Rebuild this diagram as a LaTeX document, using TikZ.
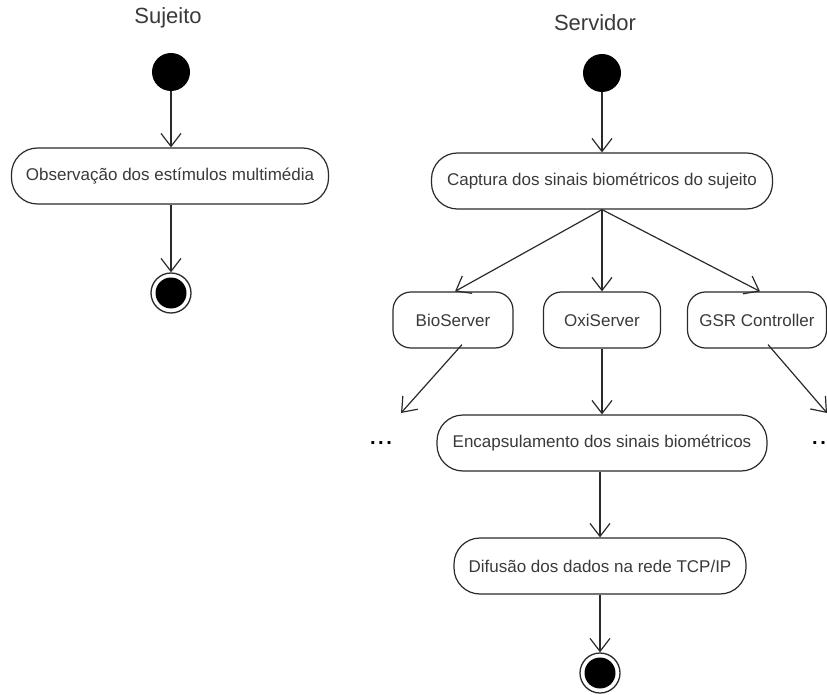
\documentclass[tikz,border=0pt]{standalone}
\usepackage{fontspec}
\setmainfont{Liberation Sans}
\usetikzlibrary{arrows.meta}
\definecolor{txt}{HTML}{3A3A3A}
\definecolor{ln}{HTML}{2A2A2A}
\tikzset{
  x={(1pt,0)}, y={(0,-1pt)},
  every node/.style={font=\fontsize{17}{20}\selectfont, text=txt},
  title/.style={font=\fontsize{22}{24}\selectfont},
  act/.style={draw=ln, line width=1.2pt, rounded corners=26pt, fill=white, minimum height=56pt, inner sep=0pt},
  small/.style={draw=ln, line width=1.2pt, rounded corners=18pt, fill=white, minimum height=56pt, inner sep=0pt},
  initn/.style={circle, fill=black, minimum size=38pt, inner sep=0pt},
  finaln/.style={circle, draw=ln, line width=1.3pt, fill=white, minimum size=40pt, inner sep=0pt,
    path picture={\fill[black] (path picture bounding box.center) circle (15.5pt);}},
  flow/.style={draw=ln, line width=1.2pt, -{Straight Barb[length=13pt,width=20pt,line width=1.2pt]}},
  dotsn/.style={font=\fontsize{20}{20}\bfseries\selectfont, text=black, inner sep=0pt}
}
\begin{document}
\begin{tikzpicture}
\useasboundingbox (0,0) rectangle (827,695);
% titles
\node[title] (sujT) at (168,18) {Sujeito};
\node[title] (servT) at (595,23) {Servidor};
% left lane
\node[initn] (i1) at (171,72) {};
\node[act, minimum width=317pt] (obs) at (170,176) {Observação dos estímulos multimédia};
\node[finaln] (f1) at (171,293) {};
\draw[flow] (i1) -- (obs.north -| i1);
\draw[flow] (obs.south -| f1) -- (f1);
% right lane
\node[initn] (i2) at (602,73) {};
\node[act, minimum width=341pt] (cap) at (602,181) {Captura dos sinais biométricos do sujeito};
\node[small, minimum width=120pt] (bio) at (453,320) {BioServer};
\node[small, minimum width=117pt] (oxi) at (602,320) {OxiServer};
\node[small, minimum width=139pt] (gsr) at (757,320) {GSR Controller};
\node[act, minimum width=330pt] (enc) at (602,443) {Encapsulamento dos sinais biométricos};
\node[act, minimum width=292pt] (dif) at (600,566) {Difusão dos dados na rede TCP/IP};
\node[finaln] (f2) at (600,673) {};
\coordinate (bl) at (401,413);
\coordinate (gr) at (827,413);
\node[dotsn] (dl) at (381,443) {.\hspace{2.5pt}.\hspace{2.5pt}.};
\node[dotsn, anchor=east] (dr) at (826,443) {.\hspace{2.5pt}.};
\draw[flow] (i2) -- (cap.north -| i2);
\draw[flow] (cap.south) -- ([xshift=2pt]bio.north);
\draw[flow] (cap.south) -- (oxi.north -| cap.south);
\draw[flow] (cap.south) -- ([xshift=3pt]gsr.north);
\draw[flow] ([xshift=9pt,yshift=4pt]bio.south) -- (bl);
\draw[flow] ([xshift=11pt,yshift=4pt]gsr.south) -- (gr);
\draw[flow] (oxi.south -| enc.north) -- (enc.north);
\draw[flow] (enc.south -| f2) -- (dif.north -| f2);
\draw[flow] (dif.south -| f2) -- (f2);
\end{tikzpicture}
\end{document}
